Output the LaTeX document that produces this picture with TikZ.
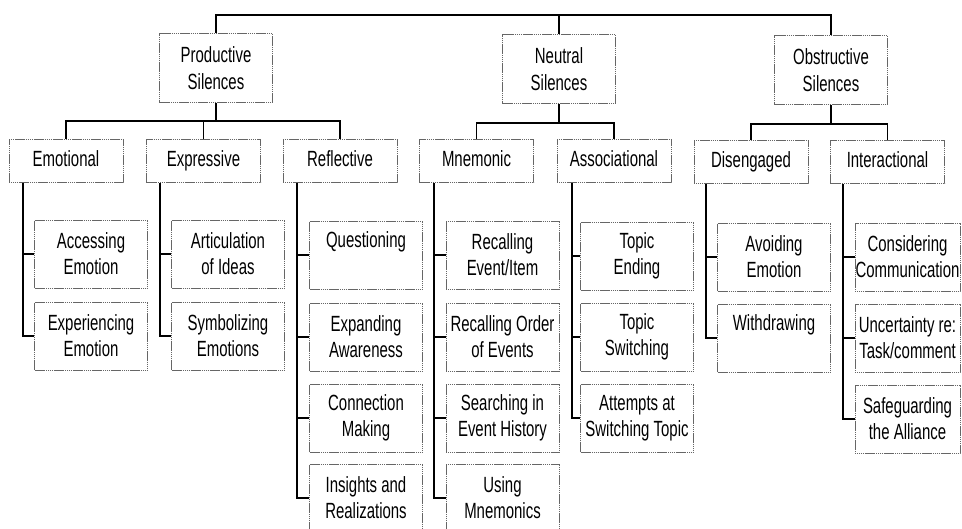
\documentclass[tikz,border=0pt]{standalone}
\usepackage{fontspec}
\setmainfont{Liberation Sans}[FakeStretch=0.68]
\begin{document}
\begin{tikzpicture}[x=1pt,y=-1pt,
  boxbase/.style={draw=black!60, line width=0.9pt, dash pattern=on 1.4pt off 0.5pt,
    inner sep=0pt, align=center, font=\fontsize{22}{26}\selectfont},
  topbox/.style={boxbase, minimum width=113pt, minimum height=69pt, font=\fontsize{22}{27}\selectfont},
  midbox/.style={boxbase, minimum width=114pt, minimum height=43pt, text height=16pt, text depth=4.5pt},
  leafbox/.style={boxbase, minimum width=113pt, minimum height=68pt},
  narrowleaf/.style={boxbase, minimum width=105pt, minimum height=68pt},
  link/.style={line width=1.9pt, line join=miter}]
\useasboundingbox (0,0) rectangle (962,528);

% level 1
\node[topbox] (P) at (216,68) {Productive\\Silences};
\node[topbox] (N) at (559,69) {Neutral\\Silences};
\node[topbox] (O) at (831,70) {Obstructive\\Silences};

% level 2
\node[midbox] (Em) at (66,161) {Emotional};
\node[midbox] (Ex) at (203.5,161) {Expressive};
\node[midbox] (Re) at (340,161) {Reflective};
\node[midbox] (Mn) at (476.5,161) {Mnemonic};
\node[midbox] (As) at (614,161) {Associational};
\node[midbox] (Di) at (751,162) {Disengaged};
\node[midbox] (In) at (887.5,162) {Interactional};

% level 3
\node[leafbox] (Em1) at (91,254) {Accessing\\Emotion};
\node[leafbox] (Em2) at (91,336) {Experiencing\\Emotion};

\node[leafbox] (Ex1) at (228,254) {Articulation\\of Ideas};
\node[leafbox] (Ex2) at (228,336) {Symbolizing\\Emotions};

\node[leafbox] (Re1) at (366,255) {Questioning\\\phantom{Xg}};
\node[leafbox] (Re2) at (366,337) {Expanding\\Awareness};
\node[leafbox] (Re3) at (366,418) {Connection\\Making};
\node[leafbox] (Re4) at (366,498) {Insights and\\Realizations};

\node[leafbox] (Mn1) at (502.5,255) {Recalling\\Event/Item};
\node[leafbox] (Mn2) at (502.5,337) {Recalling Order\\of Events};
\node[leafbox] (Mn3) at (502.5,418) {Searching in\\Event History};
\node[leafbox] (Mn4) at (502.5,498) {Using\\Mnemonics};

\node[leafbox] (As1) at (637,256) {Topic\\Ending};
\node[leafbox] (As2) at (637,337) {Topic\\Switching};
\node[leafbox] (As3) at (637,418) {Attempts at\\Switching Topic};

\node[leafbox] (Di1) at (774,257) {Avoiding\\Emotion};
\node[leafbox] (Di2) at (774,338) {Withdrawing\\\phantom{Xg}};

\node[narrowleaf] (In1) at (907.5,257) {Considering\\Communication};
\node[narrowleaf] (In2) at (907.5,338) {Uncertainty re:\\Task/comment};
\node[narrowleaf] (In3) at (907.5,419) {Safeguarding\\the Alliance};

% connectors: top
\coordinate (topy) at (0,15);
\draw[link] (P.north) -- (P.north |- topy) -- (O.north |- topy) -- (O.north);
\draw[link] (N.north) -- (N.north |- topy);

% level-2 buses
\coordinate (busP) at (0,121);
\coordinate (busN) at (0,123);
\coordinate (busO) at (0,124);
\draw[link] (P.south) -- (P.south |- busP);
\draw[link] (Em.north) -- (Em.north |- busP) -- (Re.north |- busP) -- (Re.north);
\draw[link] (Ex.north) -- (Ex.north |- busP);
\draw[link] (N.south) -- (N.south |- busN);
\draw[link] (Mn.north) -- (Mn.north |- busN) -- (As.north |- busN) -- (As.north);
\draw[link] (O.south) -- (O.south |- busO);
\draw[link] (Di.north) -- (Di.north |- busO) -- (In.north |- busO) -- (In.north);

% trunks
\coordinate (tEm) at (23,0);
\coordinate (tEx) at (160,0);
\coordinate (tRe) at (297,0);
\coordinate (tMn) at (434,0);
\coordinate (tAs) at (572,0);
\coordinate (tDi) at (706,0);
\coordinate (tIn) at (843,0);

\draw[link] (tEm |- Em.south) |- (Em2.west);
\draw[link] (tEm |- Em1.west) -- (Em1.west);

\draw[link] (tEx |- Ex.south) |- (Ex2.west);
\draw[link] (tEx |- Ex1.west) -- (Ex1.west);

\draw[link] (tRe |- Re.south) |- (Re4.west);
\draw[link] (tRe |- Re1.west) -- (Re1.west);
\draw[link] (tRe |- Re2.west) -- (Re2.west);
\draw[link] (tRe |- Re3.west) -- (Re3.west);

\draw[link] (tMn |- Mn.south) |- (Mn4.west);
\draw[link] (tMn |- Mn1.west) -- (Mn1.west);
\draw[link] (tMn |- Mn2.west) -- (Mn2.west);
\draw[link] (tMn |- Mn3.west) -- (Mn3.west);

\draw[link] (tAs |- As.south) |- (As3.west);
\draw[link] (tAs |- As1.west) -- (As1.west);
\draw[link] (tAs |- As2.west) -- (As2.west);

\draw[link] (tDi |- Di.south) |- (Di2.west);
\draw[link] (tDi |- Di1.west) -- (Di1.west);

\draw[link] (tIn |- In.south) |- (In3.west);
\draw[link] (tIn |- In1.west) -- (In1.west);
\draw[link] (tIn |- In2.west) -- (In2.west);
\end{tikzpicture}
\end{document}
